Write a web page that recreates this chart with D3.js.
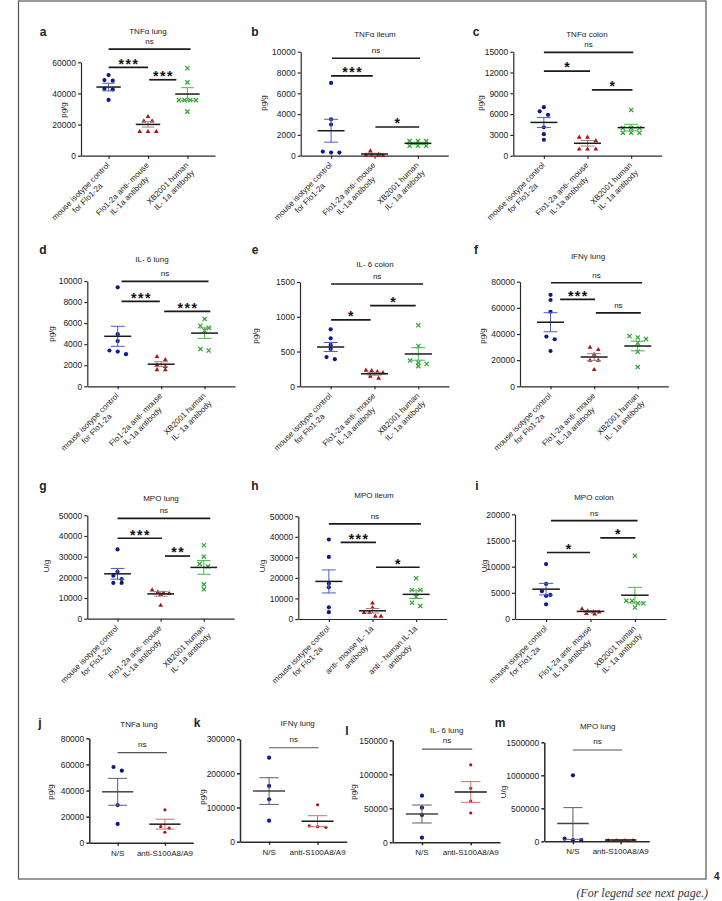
<!DOCTYPE html>
<html>
<head>
<meta charset="utf-8">
<script src="https://cdn.jsdelivr.net/npm/d3@7"></script>
<style>
  body { margin: 0; background: #fff; }
  svg text { font-family: "Liberation Sans", Arial, sans-serif; fill: #222; }
</style>
</head>
<body>
<div id="chart"></div>
<script>
// group labels
var groupsMain = [["mouse isotype control", "for Flo1-2a"], ["Flo1-2a anti- mouse", "IL-1a antibody"], ["XB2001 human", "IL- 1a antibody"]];
var groupsIleum = [["mouse isotype control", "for Flo1-2a"], ["anti- mouse IL- 1a", "antibody"], ["anti - human IL-1a", "antibody"]];
var groupsS100 = ["N/S", "anti-S100A8/A9"];

// a  TNFa lung
var tnfLungVals = [[51800, 48600, 48200, 43000, 42600, 35800], [25300, 22500, 22500, 15700, 15700, 15700], [56200, 47100, 35700, 35700, 35700, 35700, 28300]];
var tnfLungMean = [44100, 20100, 39600];
var tnfLungSem = [2450, 1700, 4100];
var tnfLungTicks = [0, 20000, 40000, 60000];
var tnfLungSig = [[0, 2.08, 68500, "ns"], [0, 1, 56800, "***"], [1.03, 1.72, 48800, "***"]];

// b  TNFa ileum
var tnfIleumVals = [[7000, 3500, 3000, 400, 300, 300], [480, 150, 100, 100, 50, 50], [1400, 1400, 1400, 950, 950, 950]];
var tnfIleumMean = [2400, 160, 1190];
var tnfIleumSem = [1100, 70, 100];
var tnfIleumTicks = [0, 2000, 4000, 6000, 8000, 10000];
var tnfIleumSig = [[0.02, 2.05, 9370, "ns"], [0, 0.96, 7670, "***"], [1.02, 2.03, 2760, "*"]];

// c  TNFa colon
var tnfColonVals = [[7000, 6400, 5900, 4100, 3100, 2300], [2700, 2700, 2200, 1000, 1000, 1000], [6600, 4000, 4000, 4000, 3300, 3300, 3300]];
var tnfColonMean = [4800, 1790, 4050];
var tnfColonSem = [720, 400, 480];
var tnfColonTicks = [0, 3000, 6000, 9000, 12000, 15000];
var tnfColonSig = [[0, 2.05, 14900, "ns"], [0, 1.06, 12200, "*"], [1.1, 2.03, 9480, "*"]];

// d  IL-6 lung
var il6LungVals = [[9400, 4950, 4300, 3400, 3300, 3050], [2850, 2550, 2050, 1900, 1600, 1600], [6400, 5750, 5550, 5300, 3550, 3400]];
var il6LungMean = [4750, 2100, 5050];
var il6LungSem = [950, 230, 500];
var il6LungTicks = [0, 2000, 4000, 6000, 8000, 10000];
var il6LungSig = [[0.09, 2.09, 9970, "ns"], [0.09, 0.97, 8070, "***"], [1.07, 2.13, 7120, "***"]];

// e  IL-6 colon
var il6ColonVals = [[820, 690, 595, 535, 420, 390], [235, 230, 215, 200, 150, 120], [877, 580, 370, 340, 320, 290]];
var il6ColonMean = [565, 180, 465];
var il6ColonSem = [65, 20, 90];
var il6ColonTicks = [0, 500, 1000, 1500];
var il6ColonSig = [[0.01, 2.11, 1471, "ns"], [0.01, 0.91, 954, "*"], [0.9, 1.94, 1159, "*"]];

// f  IFNg lung
var ifnLungVals = [[70000, 66000, 57000, 38000, 36000, 27000], [30000, 28300, 24700, 20100, 20100, 13000], [38400, 37400, 36100, 33300, 26400, 14700]];
var ifnLungMean = [49000, 22400, 30800];
var ifnLungSem = [7300, 2600, 3700];
var ifnLungTicks = [0, 20000, 40000, 60000, 80000];
var ifnLungSig = [[0.01, 2.1, 79200, "ns"], [0.22, 1.02, 66500, "***"], [1.04, 2.07, 56200, "ns"]];

// g  MPO lung
var mpoLungVals = [[33500, 22700, 20800, 19200, 17300, 17300], [14000, 13100, 12600, 12400, 11800, 6600], [35500, 30000, 26500, 25200, 16600, 14200]];
var mpoLungMean = [21700, 12000, 24800];
var mpoLungSem = [2600, 1100, 3300];
var mpoLungTicks = [0, 10000, 20000, 30000, 40000, 50000];
var mpoLungSig = [[0, 2.15, 48500, "ns"], [0, 1.03, 38900, "***"], [1.1, 1.68, 30300, "**"]];

// h  MPO ileum
var mpoIleumVals = [[38700, 30200, 17300, 15400, 5700, 3300], [7900, 5700, 3300, 3300, 1500, 1500], [19800, 14100, 14100, 10800, 7900, 6300]];
var mpoIleumMean = [18300, 4000, 12000];
var mpoIleumSem = [5600, 1100, 2000];
var mpoIleumTicks = [0, 10000, 20000, 30000, 40000, 50000];
var mpoIleumSig = [[0, 2.11, 46300, "ns"], [0.27, 1.08, 37300, "***"], [1.08, 2.08, 25200, "*"]];

// i  MPO colon
var mpoColonVals = [[10500, 6700, 5300, 4600, 4400, 2800], [2000, 1600, 1400, 1400, 1100, 1000], [12100, 3500, 3500, 3000, 3000, 2200]];
var mpoColonMean = [5700, 1450, 4550];
var mpoColonSem = [1100, 150, 1500];
var mpoColonTicks = [0, 5000, 10000, 15000, 20000];
var mpoColonSig = [[0.11, 2.06, 18800, "ns"], [0.02, 0.99, 12700, "*"], [1.22, 2.01, 15500, "*"]];

// j  TNFa lung (S100A8/A9)
var s100TnfVals = [[58000, 55200, 28800, 14400], [25200, 12300, 11100, 8000]];
var s100TnfMean = [39000, 14200];
var s100TnfSem = [10300, 3800];
var s100TnfTicks = [0, 20000, 40000, 60000, 80000];
var s100TnfSig = [[0, 1.04, 69000, "ns"]];

// k  IFNg lung
var s100IfnVals = [[245600, 163000, 124000, 61400], [108000, 46000, 44000, 42000]];
var s100IfnMean = [148000, 60000];
var s100IfnSem = [39000, 16000];
var s100IfnTicks = [0, 100000, 200000, 300000];
var s100IfnSig = [[0, 1.02, 274800, "ns"]];

// l  IL-6 lung
var s100Il6Vals = [[68500, 50900, 40100, 6800], [114000, 79400, 60700, 43100]];
var s100Il6Mean = [41600, 74000];
var s100Il6Sem = [13200, 15200];
var s100Il6Ticks = [0, 50000, 100000, 150000];
var s100Il6Sig = [[0, 1.03, 137000, "ns"]];

// m  MPO lung
var s100MpoVals = [[1000000, 40000, 20000, 20000], [18000, 18000, 18000, 18000]];
var s100MpoMean = [270000, 18000];
var s100MpoSem = [240000, 1500];
var s100MpoTicks = [0, 500000, 1000000, 1500000];
var s100MpoSig = [[0, 1.03, 1383000, "ns"]];

// panel frames (pixel layout only)
var frames = {
  a: {x0: 81, x1: 215, yTop: 62.3, yBot: 155.7, title: [148, 34], letter: [43, 35.5], ylab: [63, 110]},
  b: {x0: 300.7, x1: 448.3, yTop: 51.7, yBot: 155.7, title: [375, 37], letter: [255, 36], ylab: [263, 103]},
  c: {x0: 513.3, x1: 661.7, yTop: 51.7, yBot: 155.7, title: [587, 37], letter: [476, 35.5], ylab: [480, 103]},
  d: {x0: 87.3, x1: 235, yTop: 281, yBot: 386.3, title: [152, 262], letter: [43, 253.5], ylab: [51, 334]},
  e: {x0: 300, x1: 449, yTop: 282, yBot: 386.3, title: [375, 267], letter: [255, 254], ylab: [255, 336]},
  f: {x0: 520, x1: 668.3, yTop: 281.7, yBot: 386.3, title: [588, 259], letter: [476, 253.5], ylab: [482, 336]},
  g: {x0: 87.3, x1: 234, yTop: 515.3, yBot: 618.7, title: [161, 500.5], letter: [43, 490], ylab: [46, 566]},
  h: {x0: 298.3, x1: 446.7, yTop: 516.3, yBot: 619, title: [374, 498], letter: [255, 490], ylab: [262, 566]},
  i: {x0: 515, x1: 666, yTop: 514.3, yBot: 619, title: [594, 500], letter: [477, 489.5], ylab: [484, 566]},
  j: {x0: 89.3, x1: 193.3, yTop: 738.3, yBot: 842.7, title: [139, 726.5], letter: [40, 727], ylab: [50, 792]},
  k: {x0: 240, x1: 346.7, yTop: 739.1, yBot: 841.7, title: [297.7, 726], letter: [197, 727], ylab: [202, 797]},
  l: {x0: 392.7, x1: 500, yTop: 740.3, yBot: 842.3, title: [446.7, 733], letter: [347, 735], ylab: [353, 792]},
  m: {x0: 544.3, x1: 649.3, yTop: 742.3, yBot: 841.3, title: [597.7, 729], letter: [500, 727], ylab: [503, 792]}
};

var panels = [
  {id: "a", title: "TNFα lung", unit: "pg/g", groups: groupsMain, vals: tnfLungVals, mean: tnfLungMean, sem: tnfLungSem, ticks: tnfLungTicks, sig: tnfLungSig},
  {id: "b", title: "TNFα ileum", unit: "pg/g", groups: groupsMain, vals: tnfIleumVals, mean: tnfIleumMean, sem: tnfIleumSem, ticks: tnfIleumTicks, sig: tnfIleumSig},
  {id: "c", title: "TNFα colon", unit: "pg/g", groups: groupsMain, vals: tnfColonVals, mean: tnfColonMean, sem: tnfColonSem, ticks: tnfColonTicks, sig: tnfColonSig},
  {id: "d", title: "IL- 6 lung", unit: "pg/g", groups: groupsMain, vals: il6LungVals, mean: il6LungMean, sem: il6LungSem, ticks: il6LungTicks, sig: il6LungSig},
  {id: "e", title: "IL- 6 colon", unit: "pg/g", groups: groupsMain, vals: il6ColonVals, mean: il6ColonMean, sem: il6ColonSem, ticks: il6ColonTicks, sig: il6ColonSig},
  {id: "f", title: "IFNγ lung", unit: "pg/g", groups: groupsMain, vals: ifnLungVals, mean: ifnLungMean, sem: ifnLungSem, ticks: ifnLungTicks, sig: ifnLungSig},
  {id: "g", title: "MPO lung", unit: "U/g", groups: groupsMain, vals: mpoLungVals, mean: mpoLungMean, sem: mpoLungSem, ticks: mpoLungTicks, sig: mpoLungSig},
  {id: "h", title: "MPO ileum", unit: "U/g", groups: groupsIleum, vals: mpoIleumVals, mean: mpoIleumMean, sem: mpoIleumSem, ticks: mpoIleumTicks, sig: mpoIleumSig},
  {id: "i", title: "MPO colon", unit: "U/g", groups: groupsMain, vals: mpoColonVals, mean: mpoColonMean, sem: mpoColonSem, ticks: mpoColonTicks, sig: mpoColonSig},
  {id: "j", title: "TNFa lung", unit: "pg/g", groups: groupsS100, vals: s100TnfVals, mean: s100TnfMean, sem: s100TnfSem, ticks: s100TnfTicks, sig: s100TnfSig},
  {id: "k", title: "IFNγ lung", unit: "pg/g", groups: groupsS100, vals: s100IfnVals, mean: s100IfnMean, sem: s100IfnSem, ticks: s100IfnTicks, sig: s100IfnSig},
  {id: "l", title: "IL- 6 lung", unit: "pg/g", groups: groupsS100, vals: s100Il6Vals, mean: s100Il6Mean, sem: s100Il6Sem, ticks: s100Il6Ticks, sig: s100Il6Sig},
  {id: "m", title: "MPO lung", unit: "U/g", groups: groupsS100, vals: s100MpoVals, mean: s100MpoMean, sem: s100MpoSem, ticks: s100MpoTicks, sig: s100MpoSig}
];

var W = 722, H = 901;
var pointColor = ["#0c1a8c", "#a51616", "#2da52d"];
var semColor = ["#4a5bc4", "#a07f7f", "#4cb54c"];
var semColorSmall = ["#5c5c66", "#d96a6a"];

var svg = d3.select("#chart").append("svg")
    .attr("width", W)
    .attr("height", H);

// figure frame
svg.append("rect")
   .attr("x", 18.5).attr("y", 1)
   .attr("width", 687.5).attr("height", 878)
   .attr("fill", "none").attr("stroke", "#555").attr("stroke-width", 1.2);

svg.append("text").attr("x", 714).attr("y", 879.5)
   .attr("font-size", 10).attr("font-weight", "bold").text("4");
svg.append("text").attr("x", 708).attr("y", 896.5)
   .attr("text-anchor", "end")
   .style("font-family", '"Liberation Serif", "DejaVu Serif", serif')
   .style("font-style", "italic").attr("font-size", 12).style("fill", "#333")
   .text("(For legend see next page.)");

// spread points that sit on the same row, like a column scatter
function scatterRows(vals, y, maxW) {
  var sorted = vals.slice().sort(function(a, b) { return b - a; });
  var rows = [];
  sorted.forEach(function(v) {
    var last = rows[rows.length - 1];
    if (last && Math.abs(y(v) - y(last[0])) < 3.8) last.push(v);
    else rows.push([v]);
  });
  var out = [];
  rows.forEach(function(r) {
    var n = r.length;
    var sp = n > 1 ? Math.min(8.3, maxW / (n - 1)) : 0;
    r.forEach(function(v, k) { out.push({v: v, dx: (k - (n - 1) / 2) * sp}); });
  });
  return out;
}

function drawPanel(p) {
  var f = frames[p.id];
  var small = p.groups.length === 2;
  var n = p.groups.length;
  var g = svg.append("g").attr("class", "panel-" + p.id);

  var y = d3.scaleLinear().domain([0, d3.max(p.ticks)]).range([f.yBot, f.yTop]);
  var x = d3.scalePoint().domain(d3.range(n)).range([f.x0, f.x1]).padding(small ? 0.6 : 0.7);
  var xi = d3.scaleLinear().domain([0, n - 1]).range([x(0), x(n - 1)]);
  var step = x.step();

  // axes
  var ya = g.append("g").attr("transform", "translate(" + f.x0 + ",0)")
      .call(d3.axisLeft(y).tickValues(p.ticks).tickSize(3).tickSizeOuter(0).tickPadding(2).tickFormat(d3.format("d")));
  var xa = g.append("g").attr("transform", "translate(0," + f.yBot + ")")
      .call(d3.axisBottom(x).tickSize(3).tickSizeOuter(0).tickFormat(""));
  [ya, xa].forEach(function(a) {
    a.attr("font-family", null).attr("font-size", null);
    a.selectAll("path, line").attr("stroke", "#2a2a2a").attr("stroke-width", small ? 1.5 : 1.2);
    a.selectAll("text").attr("font-size", 8.5).style("fill", "#222");
  });

  // titles
  g.append("text").attr("x", f.title[0]).attr("y", f.title[1])
   .attr("text-anchor", "middle").attr("font-size", 8).text(p.title);
  g.append("text").attr("x", f.letter[0]).attr("y", f.letter[1])
   .attr("text-anchor", "middle").attr("font-size", 12).attr("font-weight", "bold").text(p.id);
  g.append("text").attr("transform", "translate(" + f.ylab[0] + "," + f.ylab[1] + ") rotate(-90)")
   .attr("text-anchor", "middle").attr("dy", "0.35em").attr("font-size", 8).text(p.unit);

  // category labels
  p.groups.forEach(function(lines, i) {
    var cx = x(i);
    if (small) {
      g.append("text").attr("x", cx).attr("y", f.yBot + 13)
       .attr("text-anchor", "middle").attr("font-size", 8).text(lines);
      return;
    }
    var lab = g.append("g").attr("transform", "translate(" + (cx + 1.5) + "," + (f.yBot + 10) + ") rotate(-45)");
    var ts = lines.map(function(s, k) {
      return lab.append("text").attr("text-anchor", "end").attr("y", k * 9.5).attr("font-size", 8).text(s);
    });
    var widths = ts.map(function(t) { return t.node().getComputedTextLength(); });
    var wMax = d3.max(widths);
    ts.forEach(function(t, k) { t.attr("x", -(wMax - widths[k]) / 2); });
  });

  // points
  p.vals.forEach(function(vals, i) {
    var pts = scatterRows(vals, y, small ? 26 : 17);
    var cx = x(i);
    var col = pointColor[i];
    pts.forEach(function(d) {
      var px = cx + d.dx, py = y(d.v);
      if (i === 0 || small) {
        g.append("circle").attr("cx", px).attr("cy", py)
         .attr("r", small && i === 1 ? 1.6 : 2.1).attr("fill", col);
      } else if (i === 1) {
        g.append("path").attr("transform", "translate(" + px + "," + (py + 0.4) + ")")
         .attr("d", d3.symbol().type(d3.symbolTriangle).size(10)()).attr("fill", col);
      } else {
        var s = 2.1;
        g.append("path")
         .attr("d", "M" + (px - s) + "," + (py - s) + "L" + (px + s) + "," + (py + s) +
                    "M" + (px - s) + "," + (py + s) + "L" + (px + s) + "," + (py - s))
         .attr("stroke", col).attr("stroke-width", 1.2).attr("fill", "none");
      }
    });
  });

  // mean and SEM
  p.mean.forEach(function(m, i) {
    var cx = x(i);
    var sc = small ? semColorSmall[i] : semColor[i];
    var capW = step * (small ? 0.2 : 0.16);
    var meanW = step * (small ? 0.33 : 0.31);
    var top = y(m + p.sem[i]), bot = y(Math.max(0, m - p.sem[i]));
    g.append("line").attr("x1", cx).attr("x2", cx).attr("y1", top).attr("y2", bot)
     .attr("stroke", sc).attr("stroke-width", 1);
    [top, bot].forEach(function(yy) {
      g.append("line").attr("x1", cx - capW).attr("x2", cx + capW).attr("y1", yy).attr("y2", yy)
       .attr("stroke", sc).attr("stroke-width", 1);
    });
    g.append("line").attr("x1", cx - meanW).attr("x2", cx + meanW).attr("y1", y(m)).attr("y2", y(m))
     .attr("stroke", small && i === 0 ? "#444" : "#1a1a1a").attr("stroke-width", 1.5);
  });

  // significance bars
  p.sig.forEach(function(s) {
    var xa1 = xi(s[0]), xa2 = xi(s[1]), yy = y(s[2]);
    g.append("line").attr("x1", xa1).attr("x2", xa2).attr("y1", yy).attr("y2", yy)
     .attr("stroke", small ? "#555" : "#1a1a1a").attr("stroke-width", small ? 1.1 : 1.7);
    var mid = (xa1 + xa2) / 2;
    if (s[3] === "ns") {
      g.append("text").attr("x", mid).attr("y", yy - (small ? 6 : 5))
       .attr("text-anchor", "middle").attr("font-size", 8).text("ns");
    } else {
      g.append("text").attr("x", mid + 0.75).attr("y", yy + 1.3)
       .attr("text-anchor", "middle").attr("font-size", 14).attr("font-weight", "bold")
       .attr("letter-spacing", 1.5).style("fill", "#111").text(s[3]);
    }
  });
}

panels.forEach(drawPanel);
</script>
</body>
</html>
